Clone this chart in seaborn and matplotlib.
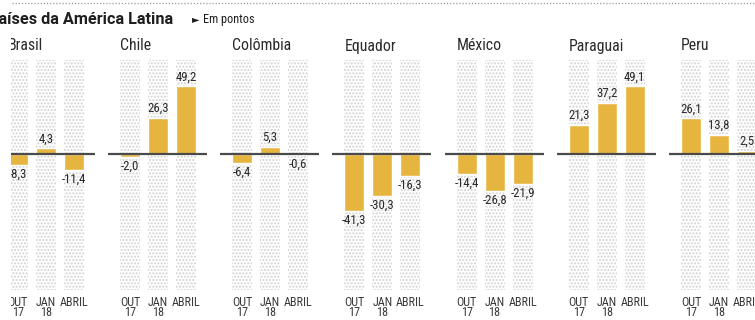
import matplotlib
matplotlib.use("Agg")
import matplotlib.pyplot as plt
from matplotlib.patches import Rectangle
from matplotlib.lines import Line2D
import seaborn as sns
import pandas as pd

# ---- data ----
countries = ["Brasil", "Chile", "Colômbia", "Equador", "México", "Paraguai", "Peru"]
months = ["OUT\n17", "JAN\n18", "ABRIL"]
brasil = [-8.3, 4.3, -11.4]
chile = [-2.0, 26.3, 49.2]
colombia = [-6.4, 5.3, -0.6]
equador = [-41.3, -30.3, -16.3]
mexico = [-14.4, -26.8, -21.9]
paraguai = [21.3, 37.2, 49.1]
peru = [26.1, 13.8, 2.5]
series = [brasil, chile, colombia, equador, mexico, paraguai, peru]
title = "Países da América Latina"
subtitle = "Em pontos"

rows = []
for c, vals in zip(countries, series):
    for m, v in zip(months, vals):
        rows.append({"pais": c, "mes": m, "valor": v})
df = pd.DataFrame(rows)

sns.set_theme(style="white")
fam = ["Roboto Condensed", "Liberation Sans Narrow", "Roboto", "DejaVu Sans"]
plt.rcParams["font.family"] = fam

GOLD = "#E6B540"
TXT = "#2a2a2a"
W, H = 755, 320
fig = plt.figure(figsize=(W / 100, H / 100), dpi=100)
fig.patch.set_facecolor("white")

px_unit = 28.0      # pixels per category step
bar_w = 20.0 / px_unit
xl = (-22 / px_unit, 2 + 21 / px_unit)
ax_w = (xl[1] - xl[0]) * px_unit
top_px, bot_px, zero_px = 60, 290, 154
scale = 1.375
ylim = (-(bot_px - zero_px) / scale, (zero_px - top_px) / scale)

for i, c in enumerate(countries):
    c1 = 17.8 + 112.2 * i
    left_px = c1 + xl[0] * px_unit
    ax = fig.add_axes([left_px / W, (H - bot_px) / H, ax_w / W, (bot_px - top_px) / H])
    sub = df[df["pais"] == c]
    # dotted background columns
    for j in range(len(months)):
        ax.axvspan(j - bar_w / 2, j + bar_w / 2, facecolor="none",
                   edgecolor="#d2d2d2", hatch=".....", lw=0, zorder=0)
    sns.barplot(data=sub, x="mes", y="valor", order=months, color=GOLD,
                saturation=1, width=bar_w, errorbar=None, ax=ax, zorder=2)
    ax.set_xlim(*xl)
    ax.set_ylim(*ylim)
    ax.axhline(0, color="#4a4a4a", lw=1.6, zorder=3)
    for s in ax.spines.values():
        s.set_visible(False)
    ax.set_yticks([])
    ax.set_xlabel("")
    ax.set_ylabel("")
    ax.tick_params(axis="x", length=0, pad=4.5, labelsize=8.7, labelcolor="#3a3a3a")
    for lab in ax.get_xticklabels():
        lab.set_linespacing(0.7)
    labels = [f"{v:.1f}".replace(".", ",") for v in sub["valor"]]
    ax.bar_label(ax.containers[0], labels=labels, padding=2, fontsize=9.2,
                 color=TXT)
    ax.text(-bar_w / 2, 1 + 14 / (bot_px - top_px), c,
            transform=ax.get_xaxis_transform(), ha="left", va="center",
            fontsize=11.3, color=TXT)

# clip the left edge as in the reference
fig.patches.append(Rectangle((0, 0), 11 / W, (H - 34) / H, transform=fig.transFigure,
                             facecolor="white", edgecolor="none", zorder=50))
# top dotted rule
fig.lines.append(Line2D([12 / W, 1], [1 - 3 / H, 1 - 3 / H], transform=fig.transFigure,
                        color="#9a9a9a", lw=0.9, ls=(0, (1, 1.5))))

# title: the first letter lies just beyond the left edge, as in the reference
tfam = ["Roboto", "DejaVu Sans"]
tsize = 12.0
renderer = fig.canvas.get_renderer()


def text_w(s, size):
    t = fig.text(0, 0, s, fontsize=size, fontweight="bold", family=tfam)
    w = t.get_window_extent(renderer).width
    t.remove()
    return w


tsize = tsize * 174 / text_w(title[1:], tsize)
shift = text_w(title, tsize) - text_w(title[1:], tsize)
fig.text(-(shift + 1.0) / W, 1 - 19 / H, title, ha="left", va="center", fontsize=tsize,
         fontweight="bold", color="#1e1e1e", family=tfam)
fig.text(192 / W, 1 - 19 / H, "►", ha="left", va="center", fontsize=7,
         color="#1e1e1e", family=["DejaVu Sans"])
fig.text(203 / W, 1 - 19 / H, subtitle, ha="left", va="center", fontsize=8.8,
         color="#1e1e1e")

fig.savefig("out.png", dpi=100, facecolor="white")
